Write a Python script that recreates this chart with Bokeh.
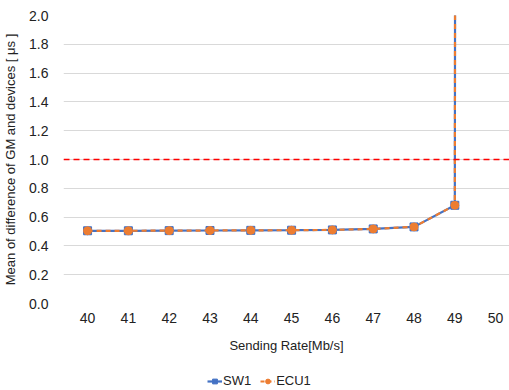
from bokeh.plotting import figure
from bokeh.layouts import column
from bokeh.models import Span, FixedTicker, NumeralTickFormatter, Legend, LegendItem, ColumnDataSource
from bokeh.embed import file_html
from bokeh.resources import INLINE

rates = [40, 41, 42, 43, 44, 45, 46, 47, 48, 49, 50]
sw1 = [0.505, 0.505, 0.506, 0.507, 0.508, 0.509, 0.511, 0.518, 0.532, 0.682, 250.0]
ecu1 = [0.505, 0.505, 0.506, 0.507, 0.508, 0.509, 0.511, 0.518, 0.532, 0.682, 250.0]
series_names = ["SW1", "ECU1"]
threshold = 1.0
y_ticks = [0.0, 0.2, 0.4, 0.6, 0.8, 1.0, 1.2, 1.4, 1.6, 1.8, 2.0]

FONT = "Liberation Sans"
BLUE = "#4472C4"
ORANGE = "#ED7D31"

p = figure(width=509, height=365, output_backend="svg", toolbar_location=None,
           x_range=(39.41, 50.34), y_range=(0, 2.0),
           min_border_left=63, min_border_right=0, min_border_top=15, min_border_bottom=62)
p.outline_line_color = None
p.background_fill_color = "white"

src = ColumnDataSource(dict(x=rates, sw1=sw1, ecu1=ecu1))
p.line("x", "sw1", source=src, color=BLUE, line_width=2.2)
p.scatter("x", "sw1", source=src, marker="square", size=8, color=BLUE)
p.line("x", "ecu1", source=src, color=ORANGE, line_width=2.2, line_dash="5 4")
p.scatter("x", "ecu1", source=src, marker="circle", size=8, color=ORANGE)

p.add_layout(Span(location=threshold, dimension="width", line_color="red",
                  line_dash="6 4", line_width=1.6))

p.xaxis.ticker = FixedTicker(ticks=rates)
p.yaxis.ticker = FixedTicker(ticks=y_ticks)
p.yaxis.formatter = NumeralTickFormatter(format="0.0")
for ax in (p.xaxis, p.yaxis):
    ax.axis_line_color = None
    ax.major_tick_line_color = None
    ax.minor_tick_line_color = None
    ax.major_label_text_font = FONT
    ax.major_label_text_font_size = "14px"
    ax.major_label_text_color = "#222222"
    ax.axis_label_text_font = FONT
    ax.axis_label_text_font_style = "normal"
    ax.axis_label_text_font_size = "13px"
    ax.axis_label_text_color = "#222222"
p.xaxis.axis_label = "Sending Rate[Mb/s]"
p.yaxis.axis_label = "Mean of difference of GM and devices [ \u03bcs ]"
p.xaxis.major_label_standoff = 3
p.xaxis.axis_label_standoff = 12
p.yaxis.major_label_standoff = 9
p.yaxis.axis_label_standoff = 8

p.xgrid.grid_line_color = None
p.ygrid.ticker = FixedTicker(ticks=y_ticks)
p.ygrid.grid_line_color = "#D9D9D9"
p.ygrid.grid_line_width = 1

# legend strip below the chart (its glyphs use the same data, kept outside its frame)
lg = figure(width=509, height=25, output_backend="svg", toolbar_location=None,
            x_range=(0, 1), y_range=(0, 1), min_border=0)
lg.outline_line_color = None
lg.axis.visible = False
lg.grid.visible = False
k1 = lg.line("x", "sw1", source=src, color=BLUE, line_width=2.2)
s1 = lg.scatter("x", "sw1", source=src, marker="square", size=7, color=BLUE)
k2 = lg.line("x", "ecu1", source=src, color=ORANGE, line_width=2.2, line_dash="4 3")
s2 = lg.scatter("x", "ecu1", source=src, marker="circle", size=7, color=ORANGE)
legend = Legend(items=[LegendItem(label=series_names[0], renderers=[k1, s1]),
                       LegendItem(label=series_names[1], renderers=[k2, s2])],
                orientation="horizontal", location=(144, 2),
                label_text_font=FONT, label_text_font_size="13px",
                label_text_color="#222222", glyph_width=15, glyph_height=12,
                label_height=14, spacing=9, padding=0, margin=0,
                border_line_color=None, label_standoff=1, background_fill_alpha=0)
lg.add_layout(legend)

layout = column(p, lg, spacing=0)
open("out.html", "w").write(file_html(layout, INLINE))
